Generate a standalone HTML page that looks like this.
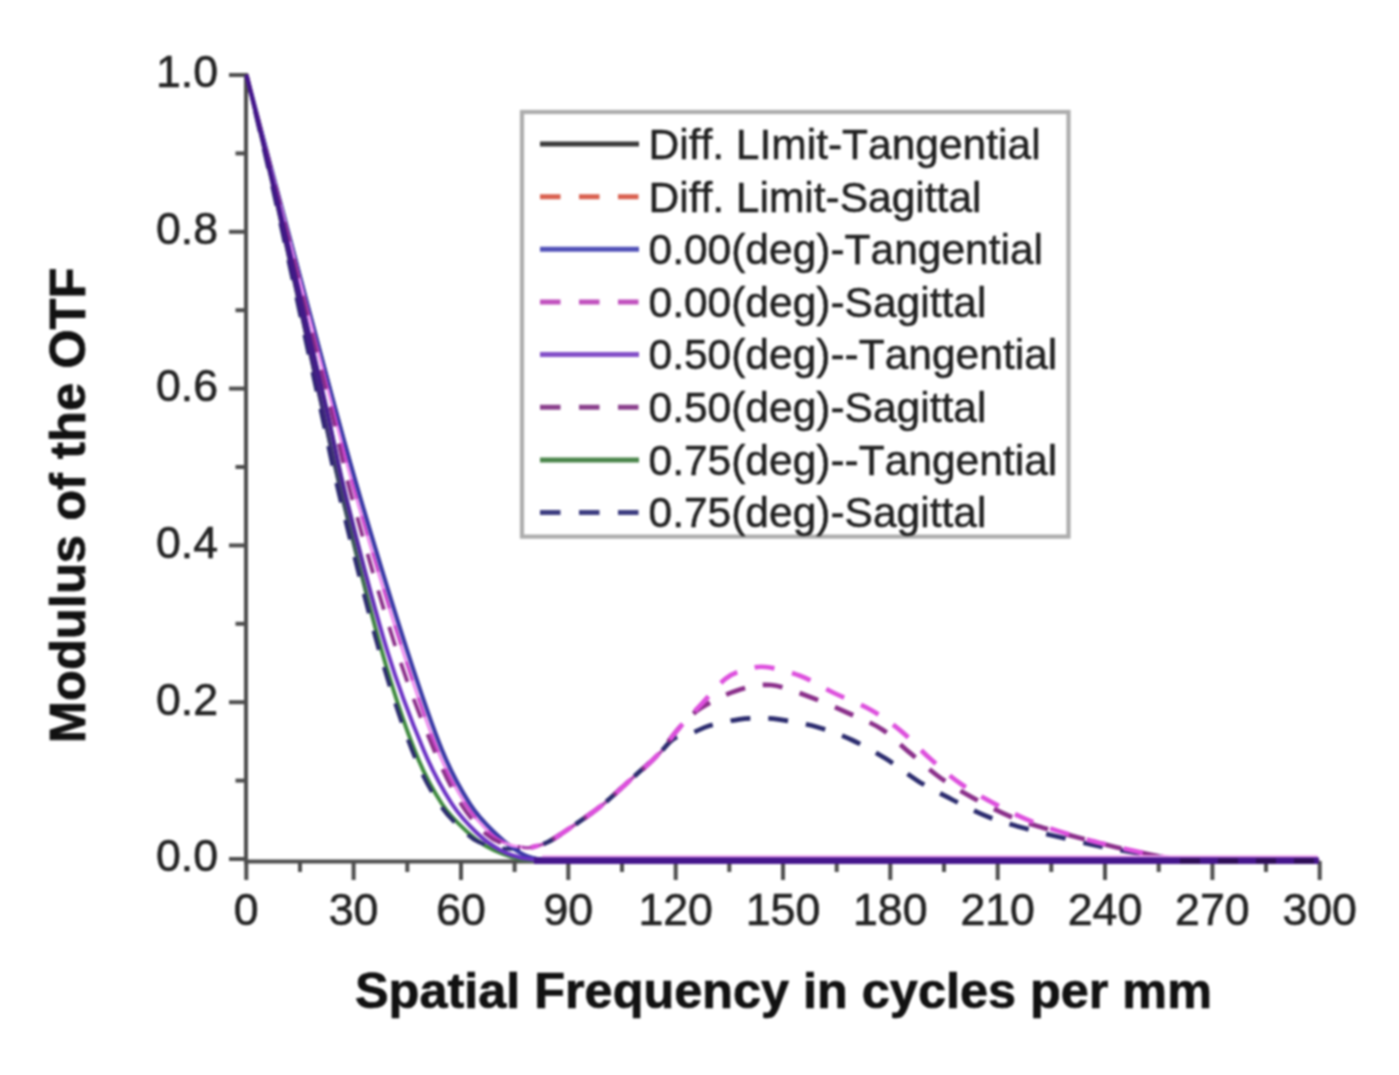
<!DOCTYPE html>
<html><head><meta charset="utf-8"><title>MTF chart</title>
<style>
html,body{margin:0;padding:0;background:#ffffff;}
body{width:1399px;height:1075px;overflow:hidden;font-family:"Liberation Sans",sans-serif;}
svg{display:block;filter:blur(1.2px);}
</style></head><body>
<svg width="1399" height="1075" viewBox="0 0 1399 1075">
<rect width="1399" height="1075" fill="#ffffff"/>
<g stroke="#4d4d4d" stroke-width="4" fill="none" stroke-linecap="butt">
<path d="M246,73 V863.5"/>
<path d="M244,861.5 H1319.5"/>
<path d="M229,859.0 H246"/>
<path d="M229,702.2 H246"/>
<path d="M229,545.4 H246"/>
<path d="M229,388.6 H246"/>
<path d="M229,231.8 H246"/>
<path d="M229,75.0 H246"/>
<path d="M235.5,780.6 H246"/>
<path d="M235.5,623.8 H246"/>
<path d="M235.5,467.0 H246"/>
<path d="M235.5,310.2 H246"/>
<path d="M235.5,153.4 H246"/>
<path d="M246.3,861 V880"/>
<path d="M353.6,861 V880"/>
<path d="M461.0,861 V880"/>
<path d="M568.3,861 V880"/>
<path d="M675.7,861 V880"/>
<path d="M783.0,861 V880"/>
<path d="M890.3,861 V880"/>
<path d="M997.7,861 V880"/>
<path d="M1105.0,861 V880"/>
<path d="M1212.4,861 V880"/>
<path d="M1319.7,861 V880"/>
<path d="M300.0,861 V872"/>
<path d="M407.3,861 V872"/>
<path d="M514.6,861 V872"/>
<path d="M622.0,861 V872"/>
<path d="M729.3,861 V872"/>
<path d="M836.7,861 V872"/>
<path d="M944.0,861 V872"/>
<path d="M1051.3,861 V872"/>
<path d="M1158.7,861 V872"/>
<path d="M1266.0,861 V872"/>
</g>
<defs><linearGradient id="gd" gradientUnits="userSpaceOnUse" x1="0" y1="75" x2="0" y2="640"><stop offset="0" stop-color="#43148a" stop-opacity="1"/><stop offset="0.55" stop-color="#3f1a84" stop-opacity="0.9"/><stop offset="0.8" stop-color="#3a2078" stop-opacity="0.55"/><stop offset="1" stop-color="#3a2078" stop-opacity="0"/></linearGradient></defs>
<g fill="none" stroke-linejoin="round">
<path d="M246.5,75.0 C252.0,95.8 265.3,145.8 279.7,200.0 C294.1,254.2 319.4,350.0 333.0,400.0 C346.6,450.0 348.7,458.3 361.0,500.0 C373.3,541.7 393.5,608.3 407.0,650.0 C420.5,691.7 431.5,724.3 442.0,750.0 C452.5,775.7 461.0,790.0 470.0,804.0 C479.0,818.0 487.6,825.8 496.0,834.0 C504.4,842.2 513.5,848.8 520.5,853.0 C527.5,857.2 532.1,857.8 538.0,859.0 C543.9,860.2 551.0,859.8 556.0,860.0 C561.0,860.2 566.0,860.0 568.0,860.0 L1318.5,860.0" stroke="#333333" stroke-width="3.6"/>
<path d="M246.5,75.0 C251.5,95.8 264.0,145.8 276.3,200.0 C288.6,254.2 309.4,350.0 320.5,400.0 C331.6,450.0 332.8,458.3 343.0,500.0 C353.2,541.7 369.6,608.3 381.5,650.0 C393.4,691.7 404.4,724.3 414.5,750.0 C424.6,775.7 432.8,790.0 442.0,804.0 C451.2,818.0 462.2,827.0 469.5,834.0 C476.8,841.0 480.4,842.7 486.0,846.0 C491.6,849.3 497.3,851.8 503.0,854.0 C508.7,856.2 514.7,858.0 520.0,859.0 C525.3,860.0 530.5,859.8 535.0,860.0 C539.5,860.2 545.0,860.0 547.0,860.0 L1318.5,860.0" stroke="#3f8a3f" stroke-width="4.0"/>
<path d="M246.5,75.0 C251.3,95.8 263.3,145.8 275.3,200.0 C287.3,254.2 307.6,350.0 318.5,400.0 C329.4,450.0 330.3,458.3 340.4,500.0 C350.5,541.7 367.0,608.3 378.9,650.0 C390.8,691.7 401.8,724.3 411.9,750.0 C422.0,775.7 430.2,790.0 439.4,804.0 C448.6,818.0 460.0,827.5 466.9,834.0 C473.8,840.5 475.1,840.6 481.0,843.0 C486.9,845.4 495.5,847.7 502.0,848.5 C508.5,849.3 517.0,848.1 520.0,848.0" stroke="#2b2b6e" stroke-width="4.0" stroke-dasharray="20 18"/>
<path d="M246.5,75.0 C252.0,95.8 265.3,145.8 279.7,200.0 C294.1,254.2 319.4,350.0 333.0,400.0 C346.6,450.0 348.7,458.3 361.0,500.0 C373.3,541.7 393.5,608.3 407.0,650.0 C420.5,691.7 431.5,724.3 442.0,750.0 C452.5,775.7 461.0,790.0 470.0,804.0 C479.0,818.0 487.6,825.8 496.0,834.0 C504.4,842.2 513.5,848.8 520.5,853.0 C527.5,857.2 532.1,857.8 538.0,859.0 C543.9,860.2 551.0,859.8 556.0,860.0 C561.0,860.2 566.0,860.0 568.0,860.0 L1318.5,860.0" stroke="#3838a8" stroke-width="4.0"/>
<path d="M246.5,75.0 C251.9,95.8 265.2,145.8 279.2,200.0 C293.2,254.2 317.5,350.0 330.5,400.0 C343.5,450.0 345.0,458.3 357.0,500.0 C369.0,541.7 389.1,608.3 402.5,650.0 C415.9,691.7 427.0,724.3 437.5,750.0 C448.0,775.7 456.6,790.0 465.5,804.0 C474.4,818.0 483.6,827.2 491.0,834.0 C498.4,840.8 504.8,842.8 510.0,845.0 C515.2,847.2 520.0,846.7 522.0,847.0" stroke="#ee8cee" stroke-width="3.0"/>
<path d="M246.5,75.0 C251.9,95.8 265.2,145.8 279.2,200.0 C293.2,254.2 317.5,350.0 330.5,400.0 C343.5,450.0 345.0,458.3 357.0,500.0 C369.0,541.7 389.1,608.3 402.5,650.0 C415.9,691.7 427.0,724.3 437.5,750.0 C448.0,775.7 456.6,790.0 465.5,804.0 C474.4,818.0 483.6,827.2 491.0,834.0 C498.4,840.8 504.8,842.8 510.0,845.0 C515.2,847.2 520.0,846.7 522.0,847.0" stroke="#cc44cc" stroke-width="3.0" stroke-dasharray="20 18"/>
<path d="M246.5,75.0 C251.7,95.8 264.5,145.8 277.5,200.0 C290.5,254.2 312.9,350.0 324.5,400.0 C336.1,450.0 336.4,458.3 346.8,500.0 C357.2,541.7 374.2,608.3 387.0,650.0 C399.8,691.7 412.8,724.3 423.6,750.0 C434.4,775.7 442.9,790.0 452.0,804.0 C461.1,818.0 470.0,826.3 478.0,834.0 C486.0,841.7 493.0,846.1 500.0,850.0 C507.0,853.9 513.3,855.8 520.0,857.5 C526.7,859.2 534.7,859.6 540.0,860.0 C545.3,860.4 550.0,860.0 552.0,860.0 L1318.5,860.0" stroke="#6a32c4" stroke-width="4.0"/>
<path d="M246.5,75.0 C251.8,95.8 264.8,145.8 278.5,200.0 C292.2,254.2 316.2,350.0 328.5,400.0 C340.8,450.0 341.2,458.3 352.5,500.0 C363.8,541.7 382.9,608.3 396.5,650.0 C410.1,691.7 423.2,724.3 434.0,750.0 C444.8,775.7 452.3,790.0 461.0,804.0 C469.7,818.0 478.5,827.2 486.0,834.0 C493.5,840.8 500.3,842.8 506.0,845.0 C511.7,847.2 517.7,846.7 520.0,847.0" stroke="#8a2f8a" stroke-width="3.8" stroke-dasharray="20 18"/>
<path d="M246.5,75.0 C251.5,95.8 264.0,145.8 276.3,200.0 C288.6,254.2 309.4,350.0 320.5,400.0 C331.6,450.0 332.8,458.3 343.0,500.0 C353.2,541.7 369.6,608.3 381.5,650.0 C393.4,691.7 409.0,733.3 414.5,750.0" stroke="url(#gd)" stroke-width="3.8"/>
<path d="M246.5,75.0 C251.7,95.8 264.5,145.8 277.5,200.0 C290.5,254.2 312.9,350.0 324.5,400.0 C336.1,450.0 336.4,458.3 346.8,500.0 C357.2,541.7 374.2,608.3 387.0,650.0 C399.8,691.7 417.5,733.3 423.6,750.0" stroke="url(#gd)" stroke-width="3.6"/>
<path d="M522.0,847.3 C523.5,847.3 526.7,848.4 531.0,847.5 C535.3,846.6 541.0,845.6 548.0,842.0 C555.0,838.4 564.1,832.0 573.0,826.0 C581.9,820.0 592.1,813.1 601.4,805.7 C610.7,798.3 619.3,789.8 628.6,781.5 C637.9,773.2 650.4,762.0 657.0,755.7 C663.6,749.5 666.2,746.0 668.0,744.0" stroke="#b04ab2" stroke-width="3.4"/>
<path d="M531.0,847.5 C533.8,846.6 541.0,845.6 548.0,842.0 C555.0,838.4 564.1,832.0 573.0,826.0 C581.9,820.0 592.1,813.1 601.4,805.7 C610.7,798.3 619.3,789.8 628.6,781.5 C637.9,773.2 649.4,762.9 657.0,755.7 C664.6,748.5 668.3,742.2 674.0,738.5 C679.7,734.8 685.4,735.5 691.4,733.3 C697.4,731.1 702.0,727.8 710.0,725.5 C718.0,723.2 731.0,720.5 739.3,719.3 C747.6,718.1 753.5,718.3 760.0,718.3 C766.5,718.3 769.1,717.9 778.6,719.4 C788.1,720.9 804.8,723.6 817.0,727.0 C829.2,730.4 840.5,734.7 852.0,740.0 C863.5,745.3 874.6,751.7 885.7,758.6 C896.8,765.5 907.4,774.5 918.6,781.4 C929.8,788.3 941.2,794.1 952.9,800.0 C964.6,805.9 976.5,812.2 988.6,817.0 C1000.7,821.8 1012.9,825.0 1025.7,828.6 C1038.5,832.2 1052.8,835.5 1065.7,838.6 C1078.6,841.7 1090.5,844.5 1102.9,847.0 C1115.3,849.5 1128.8,851.6 1140.0,853.5 C1151.2,855.4 1160.8,857.4 1170.0,858.5 C1179.2,859.6 1188.8,859.8 1195.0,860.0 C1201.2,860.2 1205.0,860.0 1207.0,860.0 L1318.5,860.0" stroke="#2b2b6e" stroke-width="4.7" stroke-dasharray="20 18" stroke-dashoffset="25"/>
<path d="M531.0,847.5 C533.8,846.6 541.0,845.6 548.0,842.0 C555.0,838.4 564.1,832.0 573.0,826.0 C581.9,820.0 592.1,813.1 601.4,805.7 C610.7,798.3 619.3,789.8 628.6,781.5 C637.9,773.2 648.7,764.5 657.0,755.7 C665.3,746.9 671.4,736.5 678.6,728.6 C685.8,720.8 690.5,714.9 700.0,708.6 C709.5,702.3 723.9,694.9 735.7,691.0 C747.5,687.1 758.6,684.0 771.0,685.0 C783.4,686.0 797.2,692.3 810.0,697.0 C822.8,701.7 836.1,707.7 848.0,713.0 C859.9,718.3 871.1,722.4 881.4,729.0 C891.7,735.6 900.0,744.6 910.0,752.9 C920.0,761.2 930.7,771.0 941.4,778.6 C952.1,786.2 962.6,792.2 974.3,798.6 C986.0,805.0 999.5,812.0 1011.4,817.0 C1023.3,822.0 1034.3,825.1 1045.7,828.6 C1057.1,832.1 1068.5,834.9 1080.0,838.0 C1091.5,841.1 1103.3,844.2 1115.0,847.0 C1126.7,849.8 1140.0,852.5 1150.0,854.5 C1160.0,856.5 1167.5,858.1 1175.0,859.0 C1182.5,859.9 1189.7,859.8 1195.0,860.0 C1200.3,860.2 1205.0,860.0 1207.0,860.0 L1318.5,860.0" stroke="#8a2f8a" stroke-width="4.7" stroke-dasharray="20 18" stroke-dashoffset="15"/>
<path d="M531.0,847.5 C533.8,846.6 541.0,845.6 548.0,842.0 C555.0,838.4 564.1,832.0 573.0,826.0 C581.9,820.0 592.1,813.1 601.4,805.7 C610.7,798.3 619.3,789.8 628.6,781.5 C637.9,773.2 648.7,764.5 657.0,755.7 C665.3,746.9 671.4,736.9 678.6,728.6 C685.8,720.3 692.1,714.0 700.0,705.7 C707.9,697.4 718.2,684.6 725.7,678.6 C733.2,672.6 738.3,671.9 745.0,670.0 C751.7,668.1 756.5,666.0 765.7,667.0 C774.9,668.0 788.6,671.4 800.0,675.7 C811.4,680.0 822.2,687.3 834.0,693.0 C845.8,698.7 859.8,703.6 871.0,710.0 C882.2,716.4 891.6,723.3 901.4,731.4 C911.2,739.5 920.0,749.8 930.0,758.6 C940.0,767.4 950.4,776.7 961.4,784.3 C972.4,791.9 984.0,798.1 995.7,804.3 C1007.4,810.5 1019.3,816.4 1031.4,821.4 C1043.6,826.4 1056.2,830.5 1068.6,834.3 C1081.0,838.1 1093.3,841.2 1105.7,844.3 C1118.1,847.4 1132.4,850.6 1142.9,852.9 C1153.4,855.2 1160.8,856.8 1168.6,858.0 C1176.4,859.2 1184.4,859.7 1190.0,860.0 C1195.6,860.3 1200.0,860.0 1202.0,860.0 L1318.5,860.0" stroke="#dd4fdd" stroke-width="4.7" stroke-dasharray="20 18" stroke-dashoffset="12"/>
</g>
<path d="M542,857.4 H1317.5" stroke="#f0a6f0" stroke-width="4.5" fill="none"/>
<path d="M534,860.6 H1318.5" stroke="#45168c" stroke-width="6.6" fill="none"/>
<path d="M1180,860.9 H1318.5" stroke="#2e0e55" stroke-width="5" stroke-dasharray="20 18" fill="none"/>
<g font-family="Liberation Sans, sans-serif" font-size="44.7" fill="#222222" stroke="#222222" stroke-width="0.6">
<text x="218" y="871.4" text-anchor="end">0.0</text>
<text x="218" y="714.6" text-anchor="end">0.2</text>
<text x="218" y="557.8" text-anchor="end">0.4</text>
<text x="218" y="401.0" text-anchor="end">0.6</text>
<text x="218" y="244.2" text-anchor="end">0.8</text>
<text x="218" y="87.4" text-anchor="end">1.0</text>
<text x="246.3" y="925.4" text-anchor="middle">0</text>
<text x="353.6" y="925.4" text-anchor="middle">30</text>
<text x="461.0" y="925.4" text-anchor="middle">60</text>
<text x="568.3" y="925.4" text-anchor="middle">90</text>
<text x="675.7" y="925.4" text-anchor="middle">120</text>
<text x="783.0" y="925.4" text-anchor="middle">150</text>
<text x="890.3" y="925.4" text-anchor="middle">180</text>
<text x="997.7" y="925.4" text-anchor="middle">210</text>
<text x="1105.0" y="925.4" text-anchor="middle">240</text>
<text x="1212.4" y="925.4" text-anchor="middle">270</text>
<text x="1319.7" y="925.4" text-anchor="middle">300</text>
</g>
<g font-family="Liberation Sans, sans-serif" font-weight="bold" font-size="50" style="font-kerning:none" fill="#111111" stroke="#111111" stroke-width="0.7">
<text x="355" y="1008" font-size="50.4">Spatial Frequency in cycles per mm</text>
<text transform="translate(84.6,743.3) rotate(-90)" font-size="50.7">Modulus of the OTF</text>
</g>
<rect x="522" y="112" width="546.5" height="424.6" fill="#ffffff" stroke="#adadad" stroke-width="4.2"/>
<g font-family="Liberation Sans, sans-serif" font-size="42.5" font-kerning="none" style="font-kerning:none" fill="#202020" stroke="#202020" stroke-width="0.5">
<path d="M540,144.0 H639" stroke="#3a3a3a" stroke-width="5.0" fill="none"/>
<text x="648.5" y="158.8" stroke-linejoin="round">Diff. LImit-Tangential</text>
<path d="M540,196.7 H639" stroke="#d9604f" stroke-width="5.0" fill="none" stroke-dasharray="20.5 18.5"/>
<text x="648.5" y="211.5" stroke-linejoin="round">Diff. Limit-Sagittal</text>
<path d="M540,249.3 H639" stroke="#5050b8" stroke-width="5.0" fill="none"/>
<text x="648.5" y="264.1" stroke-linejoin="round">0.00(deg)-Tangential</text>
<path d="M540,301.9 H639" stroke="#c050bd" stroke-width="5.0" fill="none" stroke-dasharray="20.5 18.5"/>
<text x="648.5" y="316.8" stroke-linejoin="round">0.00(deg)-Sagittal</text>
<path d="M540,354.6 H639" stroke="#8450c8" stroke-width="5.0" fill="none"/>
<text x="648.5" y="369.4" stroke-linejoin="round">0.50(deg)--Tangential</text>
<path d="M540,407.2 H639" stroke="#8a3f8c" stroke-width="5.0" fill="none" stroke-dasharray="20.5 18.5"/>
<text x="648.5" y="422.1" stroke-linejoin="round">0.50(deg)-Sagittal</text>
<path d="M540,459.9 H639" stroke="#4a854a" stroke-width="5.0" fill="none"/>
<text x="648.5" y="474.7" stroke-linejoin="round">0.75(deg)--Tangential</text>
<path d="M540,512.5 H639" stroke="#3d3d80" stroke-width="5.0" fill="none" stroke-dasharray="20.5 18.5"/>
<text x="648.5" y="527.3" stroke-linejoin="round">0.75(deg)-Sagittal</text>
</g>
</svg>
</body></html>
